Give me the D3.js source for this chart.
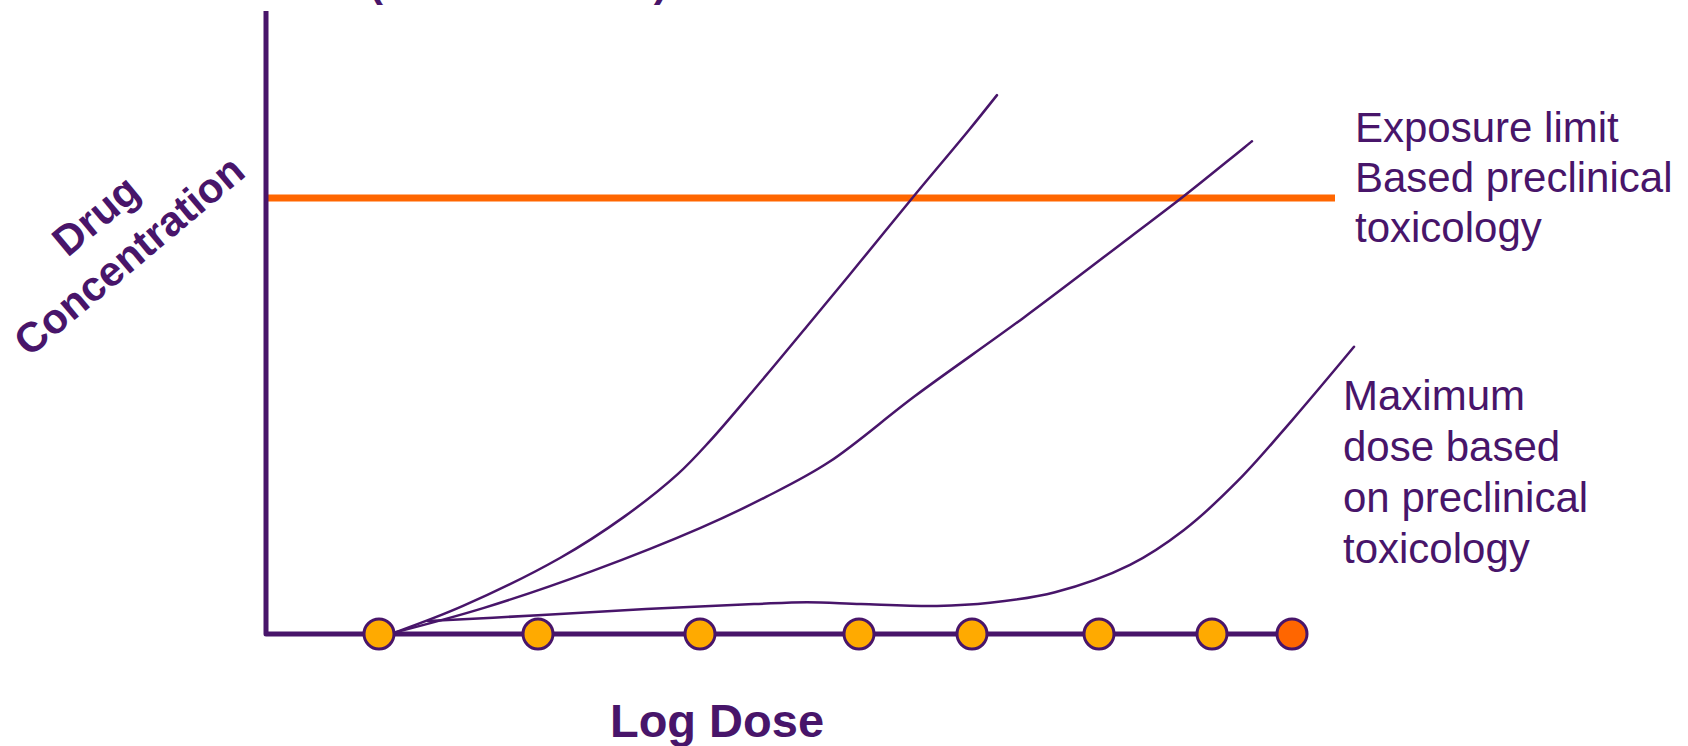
<!DOCTYPE html>
<html>
<head>
<meta charset="utf-8">
<script src="https://cdn.jsdelivr.net/npm/d3@7"></script>
<style>
  html, body { margin: 0; padding: 0; background: #fff; }
  svg { display: block; }
  text { font-family: "Liberation Sans", Arial, sans-serif; }
</style>
</head>
<body>
<svg id="chart" width="1688" height="746"></svg>
<script>
// Dose levels studied (log dose units) — the last one is the top dose
const doseLevels = [1.13, 2.72, 4.34, 5.93, 7.06, 8.33, 9.46, 10.26];
const doseFill = ["#FFAA00", "#FFAA00", "#FFAA00", "#FFAA00", "#FFAA00", "#FFAA00", "#FFAA00", "#FF6600"];

// Exposure limit from preclinical toxicology (concentration units)
const exposureLimit = 70;
const exposureLimitEnd = 10.69;

// Concentration vs log dose profiles: [logDose, concentration]
const profileSteep = [
  [1.30, 0.3], [1.97, 4.5], [2.94, 12.2], [3.58, 18.8], [4.12, 25.7], [4.44, 31.0],
  [4.88, 39.2], [5.41, 49.4], [5.95, 59.9], [6.49, 70.5], [7.03, 80.9], [7.31, 86.5]
];
const profileMid = [
  [1.30, 0.3], [2.18, 4.2], [3.26, 10.1], [4.34, 17.0], [5.00, 22.0], [5.63, 27.6],
  [6.49, 38.2], [7.57, 50.7], [8.64, 63.7], [9.18, 70.3], [9.86, 79.1]
];
const profileFlat = [
  [1.62, 2.1], [2.72, 3.0], [3.80, 4.0], [4.88, 4.8], [5.41, 5.1], [5.95, 4.8],
  [6.71, 4.5], [7.24, 5.0], [7.89, 6.7], [8.64, 11.1], [9.18, 16.7], [9.72, 24.6],
  [10.26, 34.3], [10.88, 46.1]
];

const limitLabel = ["Exposure limit", "Based preclinical", "toxicology"];
const maxDoseLabel = ["Maximum", "dose based", "on preclinical", "toxicology"];
const yTitle = ["Drug", "Concentration"];
const xTitle = "Log Dose";
const topTitle = "(AUC or Cmax)";

const purple = "#48156A";
const svg = d3.select("#chart");

const x = d3.scaleLinear().domain([0, 10.26]).range([266, 1292]);
const y = d3.scaleLinear().domain([0, 100]).range([634, 11]);

// Heading (runs off the top edge)
svg.append("text")
  .attr("x", 369).attr("y", -4)
  .attr("font-size", 42).attr("font-weight", "bold")
  .attr("fill", purple)
  .text(topTitle);

// Exposure limit line
svg.append("line")
  .attr("x1", x(0) + 1).attr("x2", x(exposureLimitEnd))
  .attr("y1", y(exposureLimit)).attr("y2", y(exposureLimit))
  .attr("stroke", "#FF6600").attr("stroke-width", 7);

// Axes drawn as an L-shaped frame
const frame = d3.path();
frame.moveTo(x(0), y(100));
frame.lineTo(x(0), y(0));
frame.lineTo(x(doseLevels[doseLevels.length - 1]), y(0));
svg.append("path")
  .attr("d", frame.toString())
  .attr("fill", "none")
  .attr("stroke", purple)
  .attr("stroke-width", 5)
  .attr("stroke-linejoin", "round");

// Concentration profiles
const line = d3.line()
  .x(d => x(d[0]))
  .y(d => y(d[1]))
  .curve(d3.curveCatmullRom.alpha(0.5));

[profileSteep, profileMid, profileFlat].forEach(profile => {
  svg.append("path")
    .attr("d", line(profile))
    .attr("fill", "none")
    .attr("stroke", purple)
    .attr("stroke-width", 2.5)
    .attr("stroke-linecap", "round");
});

// Dose level markers
svg.selectAll("circle.dose")
  .data(doseLevels)
  .join("circle")
  .attr("class", "dose")
  .attr("cx", d => x(d))
  .attr("cy", y(0))
  .attr("r", 15)
  .attr("fill", (d, i) => doseFill[i])
  .attr("stroke", purple)
  .attr("stroke-width", 3);

// Annotation text
svg.append("text")
  .attr("x", 1355).attr("y", 142)
  .attr("font-size", 42).attr("fill", purple)
  .selectAll("tspan")
  .data(limitLabel)
  .join("tspan")
  .attr("x", 1355)
  .attr("dy", (d, i) => i === 0 ? 0 : 50)
  .text(d => d);

svg.append("text")
  .attr("x", 1343).attr("y", 410)
  .attr("font-size", 42).attr("fill", purple)
  .selectAll("tspan")
  .data(maxDoseLabel)
  .join("tspan")
  .attr("x", 1343)
  .attr("dy", (d, i) => i === 0 ? 0 : 51)
  .text(d => d);

// Axis titles
svg.append("text")
  .attr("x", 717).attr("y", 737)
  .attr("text-anchor", "middle")
  .attr("font-size", 47).attr("font-weight", "bold")
  .attr("fill", purple)
  .text(xTitle);

const yt = svg.append("g")
  .attr("transform", "translate(112,235) rotate(-40)");
yt.selectAll("text")
  .data(yTitle)
  .join("text")
  .attr("x", 0)
  .attr("y", (d, i) => (i - 0.5) * 52 + 15)
  .attr("text-anchor", "middle")
  .attr("font-size", 42).attr("font-weight", "bold")
  .attr("fill", purple)
  .text(d => d);
</script>
</body>
</html>
